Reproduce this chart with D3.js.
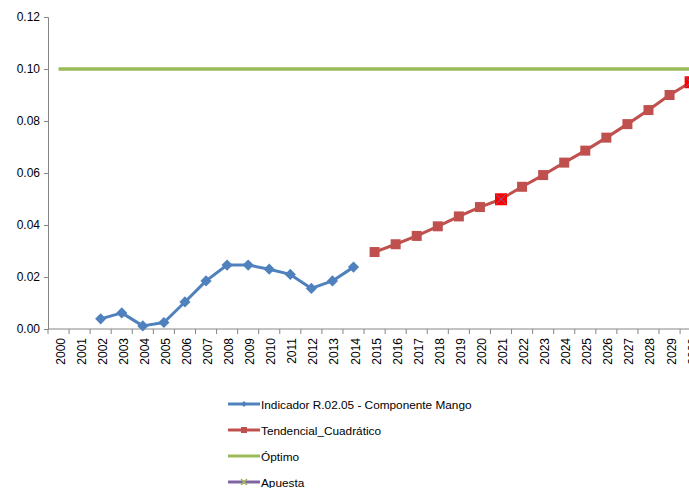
<!DOCTYPE html>
<html>
<head>
<meta charset="utf-8">
<script src="https://cdn.jsdelivr.net/npm/d3@7"></script>
<style>
  html, body { margin: 0; padding: 0; background: #fff; }
  svg { display: block; font-family: "Liberation Sans", Arial, sans-serif; }
</style>
</head>
<body>
<svg id="chart" width="689" height="488"></svg>
<script>
// Years on the category axis
const years = d3.range(2000, 2031).map(String);

// Observed indicator values (2002–2014)
const indicatorYears = ["2002","2003","2004","2005","2006","2007","2008","2009","2010","2011","2012","2013","2014"];
const indicatorValues = [0.0039, 0.0062, 0.0012, 0.0025, 0.0104, 0.0185, 0.0246, 0.0246, 0.0230, 0.0210, 0.0156, 0.0185, 0.0238];

// Quadratic trend projection (2015–2030)
const trendYears = ["2015","2016","2017","2018","2019","2020","2021","2022","2023","2024","2025","2026","2027","2028","2029","2030"];
const trendValues = [0.0296, 0.0326, 0.0358, 0.0395, 0.0433, 0.0469, 0.0499, 0.0547, 0.0592, 0.0640, 0.0686, 0.0736, 0.0788, 0.0842, 0.0900, 0.0949];

// Optimum level
const optimoValue = 0.10;

// Target points
const apuestaYears = ["2021", "2030"];
const apuestaValues = [0.0499, 0.0949];

const yTicks = [0, 0.02, 0.04, 0.06, 0.08, 0.10, 0.12];

const legendItems = [
  { label: "Indicador R.02.05 - Componente Mango", color: "#4F81BD", marker: "diamond" },
  { label: "Tendencial_Cuadrático", color: "#C0504D", marker: "square" },
  { label: "Óptimo", color: "#9BBB59", marker: "none" },
  { label: "Apuesta", color: "#8064A2", marker: "x" }
];

const svg = d3.select("#chart");
const plotLeft = 48, plotTop = 17, plotBottom = 329;
const band = 21.07;

const x = d3.scaleBand().domain(years).range([plotLeft, plotLeft + band * years.length]).padding(0);
const y = d3.scaleLinear().domain([0, 0.12]).range([plotBottom, plotTop]);
const cx = d => x(d) + x.bandwidth() / 2;

const axisColor = "#868686";

// Y axis
const yAxis = svg.append("g").attr("transform", `translate(${plotLeft},0)`)
  .call(d3.axisLeft(y).tickValues(yTicks).tickFormat(d3.format(".2f")).tickSizeOuter(0).tickSize(4));
yAxis.select(".domain").attr("stroke", axisColor);
yAxis.selectAll(".tick line").attr("stroke", axisColor);
yAxis.selectAll(".tick text").attr("font-size", 12).attr("fill", "#000")
  .attr("font-family", "Liberation Sans, Arial, sans-serif").attr("x", -8);

// X axis: line plus ticks at band boundaries
const xg = svg.append("g");
xg.append("line").attr("x1", plotLeft).attr("x2", x.range()[1]).attr("y1", plotBottom).attr("y2", plotBottom)
  .attr("stroke", axisColor);
xg.selectAll("line.tk").data(years.concat(["end"])).join("line").attr("class", "tk")
  .attr("x1", (d, i) => plotLeft + i * x.bandwidth()).attr("x2", (d, i) => plotLeft + i * x.bandwidth())
  .attr("y1", plotBottom).attr("y2", plotBottom + 5).attr("stroke", axisColor);
xg.selectAll("text").data(years).join("text")
  .attr("transform", d => `translate(${cx(d) + 6},${plotBottom + 9}) rotate(-90)`)
  .attr("text-anchor", "end").attr("font-size", 12).attr("fill", "#000")
  .text(d => d);

// Optimum line
svg.append("line").attr("x1", cx("2000")).attr("x2", x.range()[1])
  .attr("y1", y(optimoValue)).attr("y2", y(optimoValue))
  .attr("stroke", "#9BBB59").attr("stroke-width", 3.5);

const line = d3.line().x(d => cx(d[0])).y(d => y(d[1]));

// Indicator series
const indData = indicatorYears.map((d, i) => [d, indicatorValues[i]]);
svg.append("path").datum(indData).attr("d", line).attr("fill", "none")
  .attr("stroke", "#4F81BD").attr("stroke-width", 3).attr("stroke-linejoin", "round");
svg.selectAll("path.dia").data(indData).join("path").attr("class", "dia")
  .attr("d", d3.symbol(d3.symbolDiamond2, 80))
  .attr("transform", d => `translate(${cx(d[0])},${y(d[1])})`)
  .attr("fill", "#4F81BD");

// Trend series
const trData = trendYears.map((d, i) => [d, trendValues[i]]);
svg.append("path").datum(trData).attr("d", line).attr("fill", "none")
  .attr("stroke", "#C0504D").attr("stroke-width", 3).attr("stroke-linejoin", "round");
svg.selectAll("rect.sq").data(trData).join("rect").attr("class", "sq")
  .attr("x", d => cx(d[0]) - 5).attr("y", d => y(d[1]) - 5)
  .attr("width", 10).attr("height", 10).attr("fill", "#C0504D");

// Target points
const apData = apuestaYears.map((d, i) => [d, apuestaValues[i]]);
const ap = svg.selectAll("g.ap").data(apData).join("g").attr("class", "ap")
  .attr("transform", d => `translate(${cx(d[0])},${y(d[1])})`);
ap.append("rect").attr("x", -6).attr("y", -6).attr("width", 12).attr("height", 12).attr("fill", "#FF0000");
ap.append("path").attr("d", "M-5,-5L5,5M-5,5L5,-5").attr("stroke", "#8064A2").attr("stroke-width", 1);

// Legend
const lg = svg.selectAll("g.lg").data(legendItems).join("g").attr("class", "lg")
  .attr("transform", (d, i) => `translate(228,${404 + i * 26})`);
lg.append("line").attr("x1", 0).attr("x2", 32).attr("stroke", d => d.color).attr("stroke-width", 3);
lg.filter(d => d.marker === "diamond").append("path")
  .attr("d", d3.symbol(d3.symbolDiamond2, 22)).attr("transform", "translate(16,0)").attr("fill", d => d.color);
lg.filter(d => d.marker === "square").append("rect")
  .attr("x", 13).attr("y", -3).attr("width", 6).attr("height", 6).attr("fill", d => d.color);
lg.filter(d => d.marker === "x").append("path")
  .attr("d", "M13,-3L19,3M13,3L19,-3").attr("stroke", "#9BBB59").attr("stroke-width", 1.5);
lg.append("text").attr("x", 33).attr("y", 4.5).attr("font-size", 11.8).attr("fill", "#000").text(d => d.label);
</script>
</body>
</html>
